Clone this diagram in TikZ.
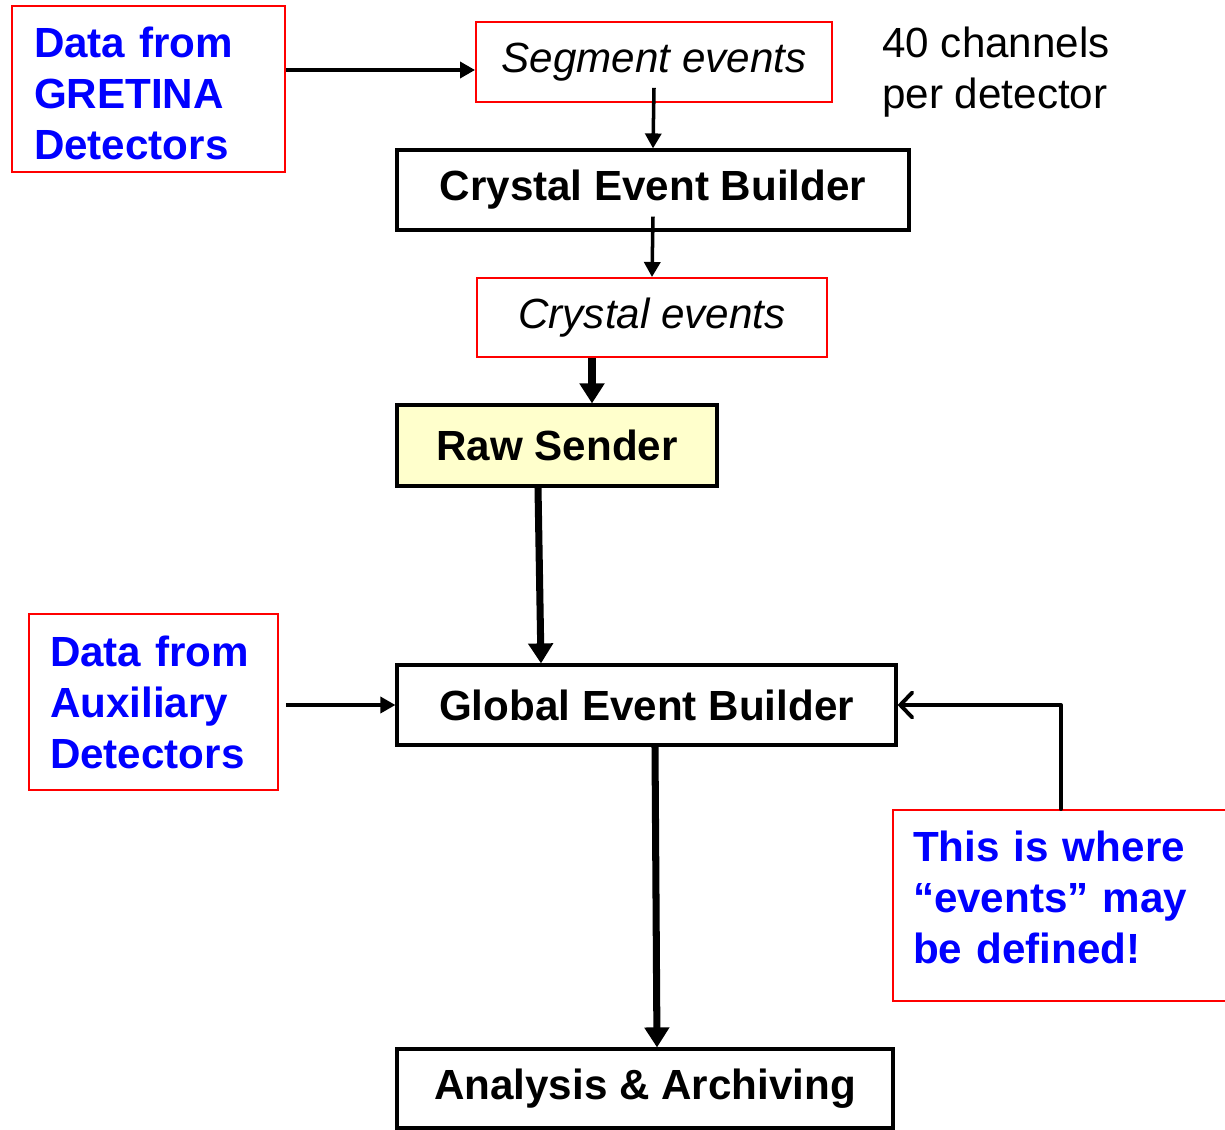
\documentclass[tikz,border=0pt]{standalone}
\usepackage{fontspec}
\setmainfont{Liberation Sans}
\usetikzlibrary{arrows.meta}
\definecolor{mblue}{rgb}{0, 0, 1}
\definecolor{mred}{rgb}{1, 0, 0}
\definecolor{myellow}{rgb}{1, 1, 0.8}
\tikzset{bigfont/.style = {font=\fontsize{24}{29}\selectfont}}
\tikzset{blkbox/.style = {draw, line width=1.8pt, inner sep=0, bigfont,
                          font=\bfseries\fontsize{24}{29}\selectfont}}
\tikzset{redbox/.style = {draw=mred, line width=1.1pt, inner sep=0, bigfont}}
\tikzset{bluetxt/.style = {redbox, text=mblue, align=left,
                           font=\bfseries\fontsize{24}{29}\selectfont}}
\tikzset{thinarr/.style = {line width=2pt, -{Triangle[length=3mm, width=3.2mm]}}}
\tikzset{thickarr/.style = {line width=4pt, -{Triangle[length=4mm, width=4.8mm]}}}
\tikzset{openarr/.style = {line width=2.2pt, line cap=round, line join=round,
                           -{Straight Barb[length=2.4mm, width=5mm, line cap=round]}}}

\begin{document}
\begin{tikzpicture}
    \useasboundingbox (0, 0) rectangle (24.5, -22.6);
    % inputs
    \node [bluetxt, minimum width=5.46cm, minimum height=3.32cm, inner xsep=0.44cm,
           text width=4.58cm] (gretina) at (2.97, -1.78)
      {\rule{0pt}{22pt}Data from\\GRETINA\\Detectors};
    \node [bluetxt, minimum width=4.98cm, minimum height=3.52cm, inner xsep=0.42cm,
           text width=4.14cm] (aux) at (3.07, -14.04)
      {Data from\\Auxiliary\\Detectors};
    \node [bluetxt, minimum width=6.84cm, minimum height=3.82cm, inner xsep=0.4cm,
           text width=6.04cm] (note) at (21.28, -18.11)
      {This is where\\``events'' may\\be defined!\par\vspace{3.2mm}};
    % event stream
    \node [redbox, minimum width=7.12cm, minimum height=1.6cm] (seg) at (13.08, -1.24)
      {\itshape Segment events};
    \node [bigfont, anchor=west, align=left, inner sep=0] (chan) at (17.64, -1.45)
      {40 channels\\per detector};
    \node [blkbox, minimum width=10.24cm, minimum height=1.6cm] (ceb) at (13.06, -3.8)
      {Crystal Event Builder};
    \node [redbox, minimum width=7cm, minimum height=1.58cm] (crys) at (13.04, -6.35)
      {\itshape Crystal events};
    \node [blkbox, fill=myellow, minimum width=6.4cm, minimum height=1.62cm] (raw)
      at (11.14, -8.91) {Raw Sender};
    \node [blkbox, minimum width=9.98cm, minimum height=1.6cm] (geb) at (12.93, -14.1)
      {Global Event Builder};
    \node [blkbox, minimum width=9.92cm, minimum height=1.58cm] (ana) at (12.9, -21.77)
      {Analysis \& Archiving};
    % connectors
    \draw [thinarr] ([yshift=3.8mm]gretina.east) -- ([yshift=3.8mm]gretina.east -| seg.west);
    \draw [thinarr] ([yshift=3mm]seg.south) -- (ceb.north);
    \draw [thinarr] ([yshift=3mm]ceb.south) -- (crys.north);
    \draw [thickarr] ([xshift=-12mm]crys.south) -- ([xshift=-12mm]crys.south |- raw.north);
    \draw [thickarr] ([xshift=-3.8mm]raw.south) -- ([xshift=-21.1mm]geb.north);
    \draw [thickarr] ([xshift=1.7mm]geb.south) -- ([xshift=2.4mm]ana.north);
    \draw [thinarr] ([xshift=1.4mm]aux.east |- geb.west) -- (geb.west);
    \draw [openarr] ([xshift=-0.6mm]note.north) |- (geb.east);
  \end{tikzpicture}
\end{document}
